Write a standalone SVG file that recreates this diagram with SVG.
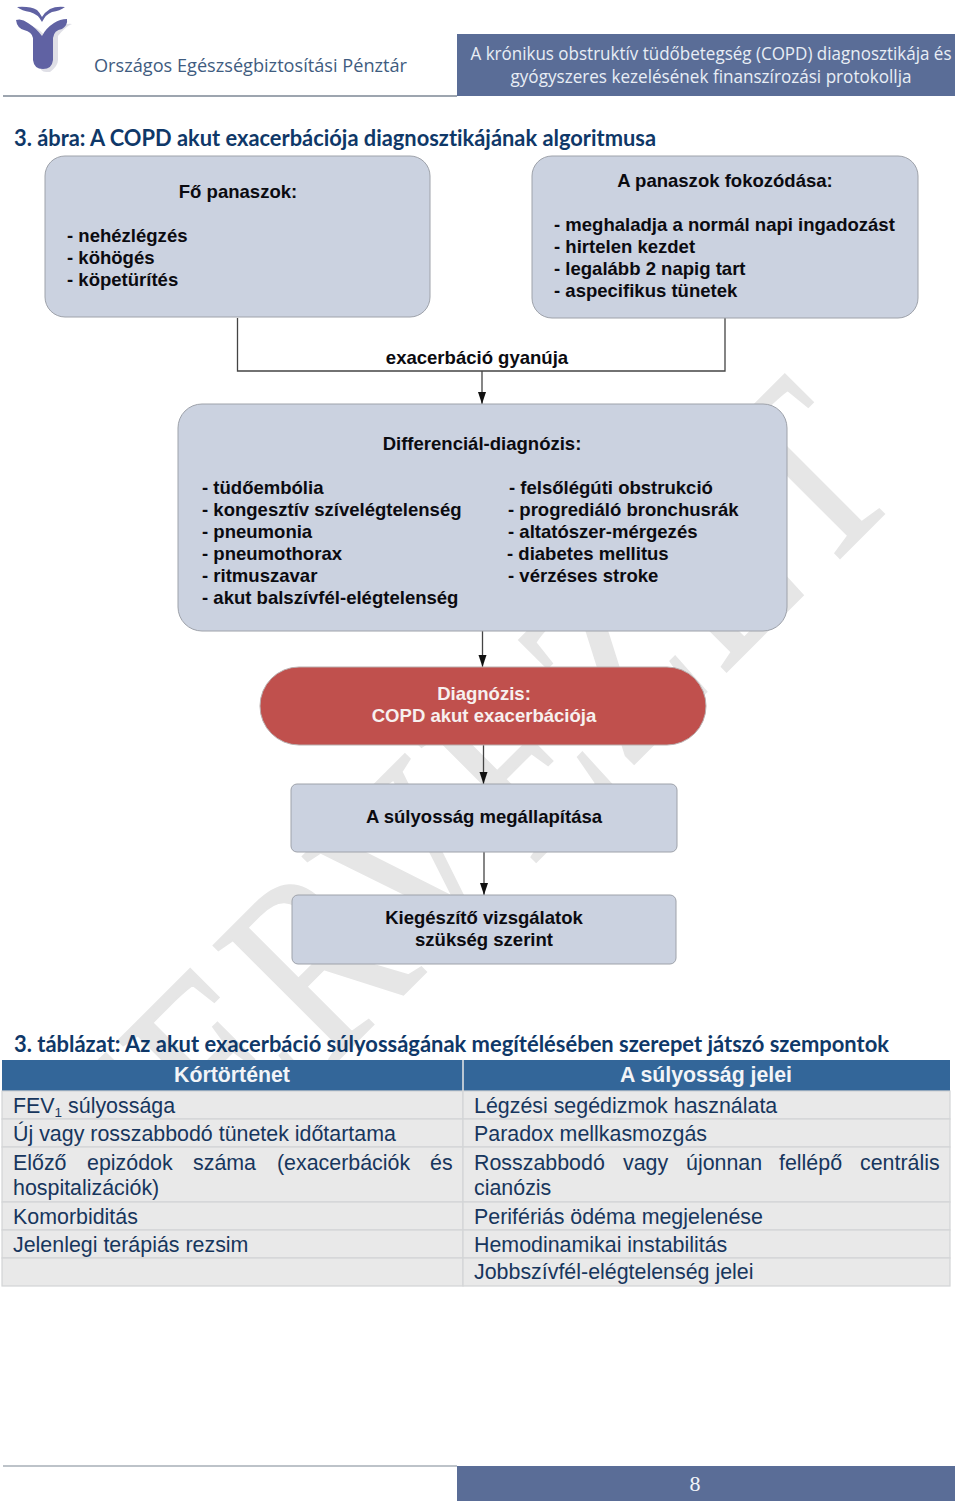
<svg xmlns="http://www.w3.org/2000/svg" width="960" height="1507" viewBox="0 0 960 1507">
<style>
.n{fill:#cbd2e0;stroke:#9ea2aa;stroke-width:1}
.b{font:bold 18.55px "Liberation Sans",Arial,sans-serif;fill:#0b0b10}
.m{text-anchor:middle}
.c{fill:none;stroke:#444;stroke-width:1.3}
.t{font:21.4px "Liberation Sans",Arial,sans-serif;fill:#17365d}
.h{font:bold 21.3px "Liberation Sans",Arial,sans-serif;fill:#f2f4f7;text-anchor:middle}
.cell{fill:#e9e9e9;stroke:#d2d4d6;stroke-width:1.2}
.cap{font:bold 22px Lato,"Open Sans",sans-serif;fill:#0f3868;font-variant-ligatures:none}
.hd{font:18px "Open Sans",sans-serif;fill:#e8edf5;text-anchor:middle}
</style>
<defs>
<marker id="a" markerWidth="12" markerHeight="14" refX="12" refY="7" orient="auto" markerUnits="userSpaceOnUse"><path d="M0 3L12 7L0 11Z" fill="#111"/></marker>
</defs>
<rect width="960" height="1507" fill="#fff"/>
<text id="watermark" transform="translate(138.400 1259.600) rotate(-45) scale(.803 1)" font-family="Liberation Serif,serif" font-size="258" letter-spacing="10" fill="#e6e6e6" stroke="#e6e6e6" stroke-width="2">TERVEZET</text>

<g id="header">
<path d="M22 72L38 72L50 72Q58 66 58 60L58 36Q66 26 72 24Q62 22 46 37Q36 24 20 24Q30 28 38 36L38 62Q40 72 46 72Z" fill="#c9cad6" opacity=".6"/>
<path d="M17 7Q30 6 37 10Q40 13 42 17Q45 12 50 9Q56 6 65 7Q60 11 52 12Q46 14 42 22Q38 14 30 12Q22 11 17 7Z" fill="#6062a3"/>
<path d="M16 20Q22 18 28 23Q36 28 42 36Q46 28 54 23Q60 19 67 19Q68 25 62 29Q54 30 53 38L53 60Q52 69 43 69Q34 69 33 60L33 38Q32 32 24 30Q17 28 16 20Z" fill="#6062a3"/>
<text x="94" y="72" font-family="Open Sans,sans-serif" font-size="19" fill="#3f5c80" textLength="313" lengthAdjust="spacingAndGlyphs">Országos Egészségbiztosítási Pénztár</text>
<path d="M3 96H457" stroke="#7d8794" stroke-width="1.500"/>
<rect x="457" y="34" width="498" height="62" fill="#5a6d97"/>
<text class="hd" x="711" y="60" textLength="481" lengthAdjust="spacingAndGlyphs">A krónikus obstruktív tüdőbetegség (COPD) diagnosztikája és</text>
<text class="hd" x="711" y="83" textLength="401" lengthAdjust="spacingAndGlyphs">gyógyszeres kezelésének  finanszírozási protokollja</text>
</g>

<text id="figure-title" class="cap" x="14" y="146" textLength="642" lengthAdjust="spacingAndGlyphs">3. ábra: A COPD akut exacerbációja diagnosztikájának algoritmusa</text>

<g id="connectors">
<path class="c" d="M237.500 318V371H725V318"/>
<path class="c" d="M482 371V404" marker-end="url(#a)"/>
<path class="c" d="M482.500 631V667" marker-end="url(#a)"/>
<path class="c" d="M483.500 745V784" marker-end="url(#a)"/>
<path class="c" d="M484 852V895" marker-end="url(#a)"/>
</g>
<text id="edge-label" class="b m" x="477" y="364">exacerbáció gyanúja</text>

<g id="node-panaszok">
<rect class="n" x="45" y="156" width="385" height="161" rx="20"/>
<text class="b m" x="238" y="198">Fő panaszok:</text>
<text class="b" x="67" y="242">- nehézlégzés</text>
<text class="b" x="67" y="264">- köhögés</text>
<text class="b" x="67" y="286">- köpetürítés</text>
</g>
<g id="node-fokozodas">
<rect class="n" x="532" y="156" width="386" height="162" rx="20"/>
<text class="b m" x="725" y="187">A panaszok fokozódása:</text>
<text class="b" x="554" y="231">- meghaladja a normál napi ingadozást</text>
<text class="b" x="554" y="253">- hirtelen kezdet</text>
<text class="b" x="554" y="275">- legalább 2 napig tart</text>
<text class="b" x="554" y="297">- aspecifikus tünetek</text>
</g>
<g id="node-differencial">
<rect class="n" x="178" y="404" width="609" height="227" rx="24"/>
<text class="b m" x="482" y="450">Differenciál-diagnózis:</text>
<text class="b" x="202" y="494">- tüdőembólia</text>
<text class="b" x="202" y="516">- kongesztív szívelégtelenség</text>
<text class="b" x="202" y="538">- pneumonia</text>
<text class="b" x="202" y="560">- pneumothorax</text>
<text class="b" x="202" y="582">- ritmuszavar</text>
<text class="b" x="202" y="604">- akut balszívfél-elégtelenség</text>
<text class="b" x="509" y="494">- felsőlégúti obstrukció</text>
<text class="b" x="508" y="516">- progrediáló bronchusrák</text>
<text class="b" x="508" y="538">- altatószer-mérgezés</text>
<text class="b" x="507" y="560">- diabetes mellitus</text>
<text class="b" x="508" y="582">- vérzéses stroke</text>
</g>
<g id="node-diagnozis">
<rect x="260" y="667" width="446" height="78" rx="39" fill="#c0504d" stroke="#b9aeae" stroke-width="1"/>
<text class="b m" x="484" y="700" style="fill:#f7f0ef">Diagnózis:</text>
<text class="b m" x="484" y="722" style="fill:#f7f0ef">COPD akut exacerbációja</text>
</g>
<g id="node-sulyossag">
<rect class="n" x="291" y="784" width="386" height="68" rx="6"/>
<text class="b m" x="484" y="823">A súlyosság megállapítása</text>
</g>
<g id="node-kiegeszito">
<rect class="n" x="292" y="895" width="384" height="69" rx="6"/>
<text class="b m" x="484" y="924">Kiegészítő vizsgálatok</text>
<text class="b m" x="484" y="946">szükség szerint</text>
</g>

<text id="table-title" class="cap" x="14" y="1052" textLength="875" lengthAdjust="spacingAndGlyphs">3. táblázat: Az akut exacerbáció súlyosságának megítélésében szerepet játszó szempontok</text>

<g id="table">
<rect x="2" y="1060" width="948" height="31" fill="#336699"/>
<path d="M463 1060V1091" stroke="#e9e9e9" stroke-width="1.500"/>
<rect class="cell" x="2" y="1091" width="461" height="28"/><rect class="cell" x="463" y="1091" width="487" height="28"/>
<rect class="cell" x="2" y="1119" width="461" height="28"/><rect class="cell" x="463" y="1119" width="487" height="28"/>
<rect class="cell" x="2" y="1147" width="461" height="55"/><rect class="cell" x="463" y="1147" width="487" height="55"/>
<rect class="cell" x="2" y="1202" width="461" height="28"/><rect class="cell" x="463" y="1202" width="487" height="28"/>
<rect class="cell" x="2" y="1230" width="461" height="28"/><rect class="cell" x="463" y="1230" width="487" height="28"/>
<rect class="cell" x="2" y="1258" width="461" height="28"/><rect class="cell" x="463" y="1258" width="487" height="28"/>
<text class="h" x="232" y="1082">Kórtörténet</text>
<text class="h" x="706" y="1082">A súlyosság jelei</text>
<text class="t" x="13" y="1113">FEV<tspan font-size="13.500" dy="4">1</tspan><tspan dy="-4"> súlyossága</tspan></text>
<text class="t" x="13" y="1141">Új vagy rosszabbodó tünetek időtartama</text>
<text class="t" y="1170"><tspan x="13">Előző</tspan> <tspan x="87">epizódok</tspan> <tspan x="193">száma</tspan> <tspan x="277">(exacerbációk</tspan> <tspan x="430">és</tspan></text>
<text class="t" x="13" y="1195">hospitalizációk)</text>
<text class="t" x="13" y="1224">Komorbiditás</text>
<text class="t" x="13" y="1252">Jelenlegi terápiás rezsim</text>
<text class="t" x="474" y="1113">Légzési segédizmok használata</text>
<text class="t" x="474" y="1141">Paradox mellkasmozgás</text>
<text class="t" y="1170"><tspan x="474">Rosszabbodó</tspan> <tspan x="623">vagy</tspan> <tspan x="686">újonnan</tspan> <tspan x="779">fellépő</tspan> <tspan x="860">centrális</tspan></text>
<text class="t" x="474" y="1195">cianózis</text>
<text class="t" x="474" y="1224">Perifériás ödéma megjelenése</text>
<text class="t" x="474" y="1252">Hemodinamikai instabilitás</text>
<text class="t" x="474" y="1279">Jobbszívfél-elégtelenség jelei</text>
</g>

<g id="footer">
<path d="M3 1466H457" stroke="#7d8794" stroke-width="1.200"/>
<rect x="457" y="1466" width="498" height="35" fill="#5a6d97"/>
<text x="695" y="1491" text-anchor="middle" font-family="Liberation Serif,serif" font-size="22" fill="#f2f5fa">8</text>
</g>
</svg>
